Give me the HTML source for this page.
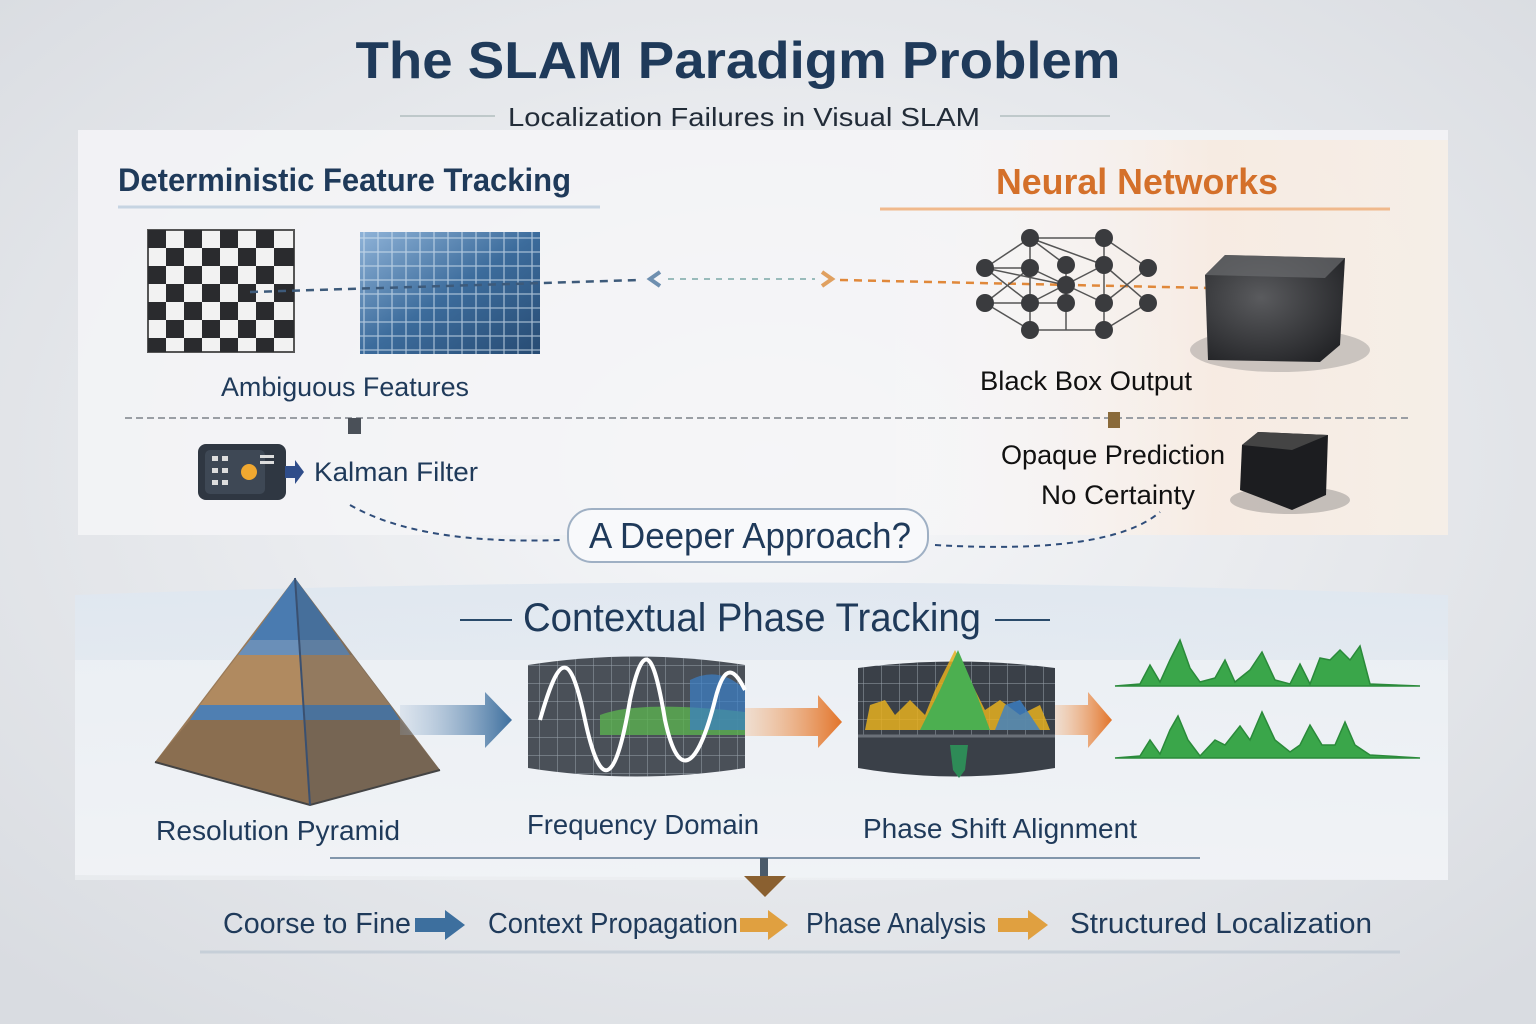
<!DOCTYPE html>
<html><head><meta charset="utf-8"><style>
html,body{margin:0;padding:0;width:1536px;height:1024px;overflow:hidden;background:#e6e8ec}
svg{display:block}
text{font-family:"Liberation Sans Narrow","Liberation Sans",sans-serif}
</style></head><body>
<svg width="1536" height="1024" viewBox="0 0 1536 1024" xmlns="http://www.w3.org/2000/svg">
<defs>
<radialGradient id="bg" cx="50%" cy="45%" r="70%"><stop offset="0" stop-color="#f7f8fa"/><stop offset="1" stop-color="#d9dce1"/></radialGradient>
<linearGradient id="orgl" x1="0" x2="1"><stop offset="0" stop-color="#fff" stop-opacity="0"/><stop offset="0.6" stop-color="#fbe3cf"/><stop offset="1" stop-color="#f8ead9"/></linearGradient>
<linearGradient id="blueArr" x1="0" x2="1"><stop offset="0" stop-color="#9ab4d0" stop-opacity="0.2"/><stop offset="1" stop-color="#3d6f9e"/></linearGradient>
<linearGradient id="orArr" x1="0" x2="1"><stop offset="0" stop-color="#f3b07a" stop-opacity="0.3"/><stop offset="1" stop-color="#e2742a"/></linearGradient>
<linearGradient id="bld" x1="0" y1="0" x2="1" y2="1"><stop offset="0" stop-color="#8fb3d8"/><stop offset="0.5" stop-color="#3c6c9c"/><stop offset="1" stop-color="#274b73"/></linearGradient>
<linearGradient id="band" x1="0" y1="0" x2="0" y2="1"><stop offset="0" stop-color="#dfe7f0"/><stop offset="1" stop-color="#eef1f5"/></linearGradient>
<radialGradient id="cube" cx="40%" cy="40%" r="70%"><stop offset="0" stop-color="#5a5b5e"/><stop offset="1" stop-color="#242528"/></radialGradient>
<pattern id="grid" width="18" height="18" patternUnits="userSpaceOnUse"><path d="M18 0V18H0" fill="none" stroke="#9aa3ad" stroke-width="1"/></pattern>
<pattern id="bgrid" width="14" height="14" patternUnits="userSpaceOnUse"><rect width="14" height="14" fill="none" stroke="#d8e6f3" stroke-width="1.2" opacity="0.7"/></pattern>
</defs>
<rect width="1536" height="1024" fill="url(#bg)"/>
<text x="738" y="78" text-anchor="middle" font-size="52" font-weight="bold" fill="#1f3a5a" textLength="765" lengthAdjust="spacingAndGlyphs">The SLAM Paradigm Problem</text>
<line x1="400" y1="116" x2="495" y2="116" stroke="#9aa" stroke-width="2" opacity=".5"/>
<line x1="1000" y1="116" x2="1110" y2="116" stroke="#9aa" stroke-width="2" opacity=".5"/>
<text x="744" y="126" text-anchor="middle" font-size="26" fill="#222c38" textLength="472" lengthAdjust="spacingAndGlyphs">Localization Failures in Visual SLAM</text>
<rect x="78" y="130" width="1370" height="405" fill="#f4f5f7" opacity="0.85"/>
<rect x="860" y="140" width="588" height="395" fill="url(#orgl)" opacity="0.5"/>
<text x="118" y="191" font-size="32" font-weight="bold" fill="#1f3a5a" textLength="453" lengthAdjust="spacingAndGlyphs">Deterministic Feature Tracking</text>
<line x1="118" y1="207" x2="600" y2="207" stroke="#c6d4e2" stroke-width="3"/>
<text x="996" y="194" font-size="36" font-weight="bold" fill="#d4702a" textLength="282" lengthAdjust="spacingAndGlyphs">Neural Networks</text>
<line x1="880" y1="209" x2="1390" y2="209" stroke="#f0b98c" stroke-width="3"/>
<rect x="148" y="230" width="146" height="122" fill="#f2f2f2" stroke="#555" stroke-width="2"/>
<g fill="#2a2b2e">
<rect x="148" y="230" width="18" height="18"/><rect x="184" y="230" width="18" height="18"/><rect x="220" y="230" width="18" height="18"/><rect x="256" y="230" width="18" height="18"/>
<rect x="166" y="248" width="18" height="18"/><rect x="202" y="248" width="18" height="18"/><rect x="238" y="248" width="18" height="18"/><rect x="274" y="248" width="20" height="18"/>
<rect x="148" y="266" width="18" height="18"/><rect x="184" y="266" width="18" height="18"/><rect x="220" y="266" width="18" height="18"/><rect x="256" y="266" width="18" height="18"/>
<rect x="166" y="284" width="18" height="18"/><rect x="202" y="284" width="18" height="18"/><rect x="238" y="284" width="18" height="18"/><rect x="274" y="284" width="20" height="18"/>
<rect x="148" y="302" width="18" height="18"/><rect x="184" y="302" width="18" height="18"/><rect x="220" y="302" width="18" height="18"/><rect x="256" y="302" width="18" height="18"/>
<rect x="166" y="320" width="18" height="18"/><rect x="202" y="320" width="18" height="18"/><rect x="238" y="320" width="18" height="18"/><rect x="274" y="320" width="20" height="18"/>
<rect x="148" y="338" width="18" height="14"/><rect x="184" y="338" width="18" height="14"/><rect x="220" y="338" width="18" height="14"/><rect x="256" y="338" width="18" height="14"/>
</g>
<rect x="360" y="232" width="180" height="122" fill="url(#bld)"/>
<rect x="360" y="232" width="180" height="122" fill="url(#bgrid)"/>
<line x1="250" y1="292" x2="640" y2="280" stroke="#3d5a7a" stroke-width="2.5" stroke-dasharray="8,6"/>
<path d="M660 272 L650 279 L660 286" fill="none" stroke="#6e8fb0" stroke-width="4"/>
<line x1="668" y1="279" x2="815" y2="279" stroke="#9bb" stroke-width="2" stroke-dasharray="6,6"/>
<path d="M822 272 L832 279 L822 286" fill="none" stroke="#e0a060" stroke-width="4"/>
<line x1="840" y1="280" x2="1210" y2="288" stroke="#e0883a" stroke-width="2.5" stroke-dasharray="8,6"/>
<g stroke="#555" stroke-width="1.5">
<line x1="1030" y1="238" x2="985" y2="268"/><line x1="1030" y1="238" x2="1066" y2="265"/><line x1="1030" y1="238" x2="1104" y2="238"/><line x1="1030" y1="238" x2="1104" y2="265"/>
<line x1="985" y1="268" x2="1030" y2="303"/><line x1="985" y1="268" x2="1066" y2="285"/><line x1="985" y1="268" x2="1030" y2="268"/>
<line x1="985" y1="303" x2="1030" y2="330"/><line x1="985" y1="303" x2="1066" y2="303"/><line x1="985" y1="303" x2="1030" y2="268"/>
<line x1="1030" y1="268" x2="1104" y2="303"/><line x1="1030" y1="303" x2="1104" y2="265"/><line x1="1030" y1="330" x2="1104" y2="330"/>
<line x1="1104" y1="238" x2="1148" y2="268"/><line x1="1104" y1="265" x2="1148" y2="303"/><line x1="1104" y1="303" x2="1148" y2="268"/><line x1="1104" y1="330" x2="1148" y2="303"/>
<line x1="1066" y1="265" x2="1066" y2="330"/><line x1="1030" y1="238" x2="1030" y2="330"/><line x1="1104" y1="238" x2="1104" y2="330"/>
</g>
<g fill="#3a3b3e">
<circle cx="1030" cy="238" r="9"/><circle cx="1104" cy="238" r="9"/>
<circle cx="985" cy="268" r="9"/><circle cx="1030" cy="268" r="9"/><circle cx="1066" cy="265" r="9"/><circle cx="1104" cy="265" r="9"/><circle cx="1148" cy="268" r="9"/>
<circle cx="1066" cy="285" r="9"/>
<circle cx="985" cy="303" r="9"/><circle cx="1030" cy="303" r="9"/><circle cx="1066" cy="303" r="9"/><circle cx="1104" cy="303" r="9"/><circle cx="1148" cy="303" r="9"/>
<circle cx="1030" cy="330" r="9"/><circle cx="1104" cy="330" r="9"/>
</g>
<ellipse cx="1280" cy="350" rx="90" ry="22" fill="#777" opacity=".35"/>
<path d="M1205 275 L1225 255 L1345 258 L1340 345 L1320 362 L1208 360 Z" fill="url(#cube)"/>
<path d="M1205 275 L1225 255 L1345 258 L1325 278 Z" fill="#6a6b6e" opacity=".7"/>
<text x="1086" y="390" text-anchor="middle" font-size="27" fill="#111" textLength="212" lengthAdjust="spacingAndGlyphs">Black Box Output</text>
<text x="345" y="396" text-anchor="middle" font-size="27" fill="#1f3a5a" textLength="248" lengthAdjust="spacingAndGlyphs">Ambiguous Features</text>
<line x1="125" y1="418" x2="1410" y2="418" stroke="#9a9ea4" stroke-width="2" stroke-dasharray="7,4"/>
<rect x="348" y="418" width="13" height="16" fill="#4a5058"/>
<rect x="1108" y="412" width="12" height="16" fill="#8a6a3a"/>
<rect x="198" y="444" width="88" height="56" rx="8" fill="#2f3742"/>
<rect x="205" y="450" width="60" height="44" rx="5" fill="#3e4855"/>
<circle cx="249" cy="472" r="8" fill="#f0a830"/>
<g fill="#ddd"><rect x="212" y="456" width="6" height="5"/><rect x="222" y="456" width="6" height="5"/><rect x="212" y="468" width="6" height="5"/><rect x="222" y="468" width="6" height="5"/><rect x="212" y="480" width="6" height="5"/><rect x="222" y="480" width="6" height="5"/><rect x="260" y="455" width="14" height="3"/><rect x="260" y="461" width="14" height="3"/></g>
<path d="M285 466 L295 466 L295 460 L304 472 L295 484 L295 478 L285 478 Z" fill="#2f4d8a"/>
<text x="314" y="481" font-size="27" fill="#1f3a5a" textLength="164" lengthAdjust="spacingAndGlyphs">Kalman Filter</text>
<text x="1113" y="464" text-anchor="middle" font-size="27" fill="#111" textLength="224" lengthAdjust="spacingAndGlyphs">Opaque Prediction</text>
<text x="1118" y="504" text-anchor="middle" font-size="27" fill="#111" textLength="154" lengthAdjust="spacingAndGlyphs">No Certainty</text>
<ellipse cx="1290" cy="500" rx="60" ry="14" fill="#666" opacity=".35"/>
<path d="M1242 445 L1258 432 L1328 435 L1326 495 L1292 510 L1240 490 Z" fill="#1c1d20"/>
<path d="M1242 445 L1258 432 L1328 435 L1292 450 Z" fill="#444"/>
<path d="M350 505 Q420 545 560 540" fill="none" stroke="#2f4d7a" stroke-width="2" stroke-dasharray="6,5"/>
<path d="M935 545 Q1110 555 1160 512" fill="none" stroke="#2f4d7a" stroke-width="2" stroke-dasharray="6,5"/>
<rect x="568" y="509" width="360" height="53" rx="24" fill="#f8f9fb" stroke="#9fb0c4" stroke-width="2"/>
<text x="750" y="548" text-anchor="middle" font-size="36" fill="#1f3a5a" textLength="322" lengthAdjust="spacingAndGlyphs">A Deeper Approach?</text>
<path d="M75 595 Q760 570 1448 595 L1448 880 L75 875 Z" fill="url(#band)" opacity=".9"/>
<rect x="75" y="660" width="1373" height="220" fill="#f3f5f8" opacity=".5"/>
<line x1="460" y1="620" x2="512" y2="620" stroke="#2a4a6a" stroke-width="2"/>
<line x1="995" y1="620" x2="1050" y2="620" stroke="#2a4a6a" stroke-width="2"/>
<text x="752" y="631" text-anchor="middle" font-size="40" fill="#1f3a5a" textLength="458" lengthAdjust="spacingAndGlyphs">Contextual Phase Tracking</text>
<!-- pyramid -->
<path d="M295 578 L440 770 L310 805 L155 762 Z" fill="#9a7a58"/>
<path d="M295 578 L250 640 L340 640 Z" fill="#4a7bb0"/>
<path d="M250 640 L340 640 L350 655 L238 655 Z" fill="#6a8fb8"/>
<path d="M238 655 L352 655 L390 705 L200 705 Z" fill="#b08a60"/>
<path d="M200 705 L390 705 L400 720 L190 720 Z" fill="#4f7fb2"/>
<path d="M190 720 L400 720 L440 770 L310 805 L155 762 Z" fill="#8a6e50"/>
<path d="M295 578 L310 805 L440 770 Z" fill="#3a4a5a" opacity=".25"/>
<path d="M155 762 L310 805 L440 770" fill="none" stroke="#444" stroke-width="2"/>
<line x1="295" y1="578" x2="310" y2="805" stroke="#3a5070" stroke-width="2"/>
<path d="M400 705 L485 705 L485 692 L512 720 L485 748 L485 735 L400 735 Z" fill="url(#blueArr)"/>
<path d="M745 708 L818 708 L818 695 L842 722 L818 748 L818 736 L745 736 Z" fill="url(#orArr)"/>
<path d="M1055 705 L1088 705 L1088 692 L1112 720 L1088 748 L1088 735 L1055 735 Z" fill="url(#orArr)"/>
<path d="M528 665 Q636 648 745 665 L745 768 Q636 785 528 768 Z" fill="#4a5058"/>
<path d="M528 665 Q636 648 745 665 L745 768 Q636 785 528 768 Z" fill="url(#grid)"/>
<path d="M600 715 Q640 700 745 712 L745 735 L600 735 Z" fill="#5ab050" opacity=".8"/>
<path d="M690 680 Q720 665 745 690 L745 730 L690 730 Z" fill="#3b7fc8" opacity=".7"/>
<path d="M540 720 C560 650 570 650 585 720 C600 790 615 790 630 700 C645 630 655 660 665 720 C680 790 700 760 715 700 C725 660 735 670 745 690" fill="none" stroke="#fff" stroke-width="4"/>
<path d="M858 668 Q955 655 1055 668 L1055 768 Q955 785 858 768 Z" fill="#3a4048"/>
<path d="M858 668 Q955 655 1055 668 L1055 735 L858 735 Z" fill="url(#grid)"/>
<path d="M865 730 L870 705 L885 700 L895 715 L910 700 L925 715 L935 690 L955 650 L970 680 L985 710 L1000 700 L1020 715 L1040 705 L1050 730 Z" fill="#e6b020" opacity=".85"/>
<path d="M920 730 L940 690 L958 650 L975 690 L990 730 Z" fill="#4caf50"/>
<path d="M995 730 L1005 705 L1020 700 L1030 715 L1040 730 Z" fill="#3b7fc8" opacity=".8"/>
<line x1="858" y1="736" x2="1055" y2="736" stroke="#6a7078" stroke-width="3"/>
<path d="M950 745 L968 745 L965 770 L959 778 L953 770 Z" fill="#2e8b57"/>
<path d="M1115 686 L1140 684 L1150 665 L1160 682 L1170 660 L1180 640 L1190 668 L1200 682 L1215 678 L1225 660 L1235 682 L1250 670 L1262 652 L1275 680 L1290 684 L1300 664 L1310 684 L1320 658 L1330 660 L1340 650 L1350 660 L1360 646 L1370 684 L1420 686 Z" fill="#3aa64a" stroke="#2a8a3a" stroke-width="1.5"/>
<path d="M1115 758 L1140 756 L1150 740 L1160 754 L1170 730 L1178 716 L1188 740 L1200 756 L1215 740 L1225 745 L1240 726 L1250 740 L1262 712 L1275 740 L1290 752 L1300 745 L1310 725 L1322 745 L1335 745 L1345 722 L1355 745 L1370 755 L1420 758 Z" fill="#3aa64a" stroke="#2a8a3a" stroke-width="1.5"/>
<text x="278" y="840" text-anchor="middle" font-size="28" fill="#1f3a5a" textLength="244" lengthAdjust="spacingAndGlyphs">Resolution Pyramid</text>
<text x="643" y="834" text-anchor="middle" font-size="28" fill="#1f3a5a" textLength="232" lengthAdjust="spacingAndGlyphs">Frequency Domain</text>
<text x="1000" y="838" text-anchor="middle" font-size="28" fill="#1f3a5a" textLength="274" lengthAdjust="spacingAndGlyphs">Phase Shift Alignment</text>
<line x1="330" y1="858" x2="1200" y2="858" stroke="#3a5a7a" stroke-width="2" opacity=".6"/>
<rect x="760" y="858" width="8" height="18" fill="#4a5a6a"/>
<path d="M744 876 L786 876 L765 897 Z" fill="#8a6030"/>
<line x1="200" y1="952" x2="1400" y2="952" stroke="#b8c4d0" stroke-width="3" opacity=".6"/>
<text x="223" y="933" font-size="29" fill="#1f3a5a" textLength="188" lengthAdjust="spacingAndGlyphs">Coorse to Fine</text>
<path d="M415 918 L445 918 L445 910 L465 925 L445 940 L445 932 L415 932 Z" fill="#3d6f9e"/>
<text x="488" y="933" font-size="29" fill="#1f3a5a" textLength="250" lengthAdjust="spacingAndGlyphs">Context Propagation</text>
<path d="M740 918 L768 918 L768 910 L788 925 L768 940 L768 932 L740 932 Z" fill="#e0a040"/>
<text x="806" y="933" font-size="29" fill="#1f3a5a" textLength="180" lengthAdjust="spacingAndGlyphs">Phase Analysis</text>
<path d="M998 918 L1028 918 L1028 910 L1048 925 L1028 940 L1028 932 L998 932 Z" fill="#e0a040"/>
<text x="1070" y="933" font-size="29" fill="#1f3a5a" textLength="302" lengthAdjust="spacingAndGlyphs">Structured Localization</text>
</svg>
</body></html>
